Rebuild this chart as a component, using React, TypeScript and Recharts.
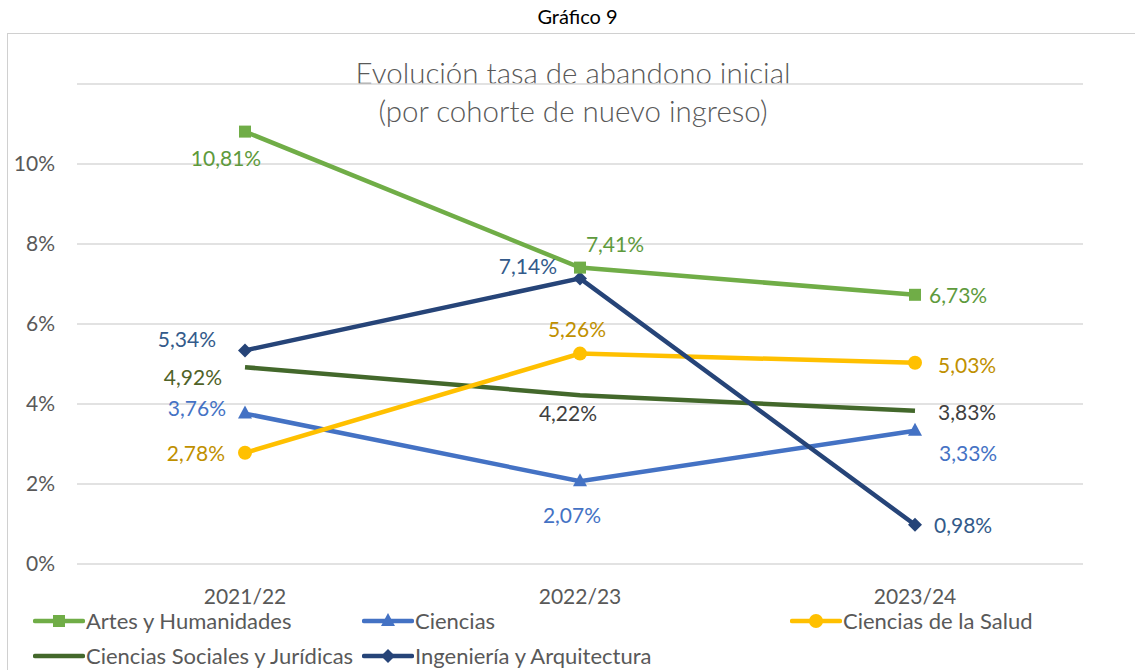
import React from "react";
import { LineChart, Line, XAxis, YAxis, CartesianGrid, LabelList } from "recharts";

// Data (percent values)
const years = ["2021/22", "2022/23", "2023/24"];
const artes = [10.81, 7.41, 6.73];
const ciencias = [3.76, 2.07, 3.33];
const salud = [2.78, 5.26, 5.03];
const sociales = [4.92, 4.22, 3.83];
const ingenieria = [5.34, 7.14, 0.98];
const yTicks = [0, 2, 4, 6, 8, 10];

const data = years.map((y, i) => ({
  year: y,
  artes: artes[i],
  ciencias: ciencias[i],
  salud: salud[i],
  sociales: sociales[i],
  ingenieria: ingenieria[i],
}));

const FONT = "Lato, 'Open Sans', sans-serif";
const fmt = (v: number) => v.toFixed(2).replace(".", ",") + "%";

// label placement per point: [dx, dy, anchor, color]
type Pos = [number, number, string, string];
const makeLabel = (pos: Pos[]) => (props: any) => {
  const { x, y, value, index } = props;
  const [dx, dy, anchor, color] = pos[index];
  return (
    <text
      x={x + dx}
      y={y + dy}
      textAnchor={anchor}
      dominantBaseline="central"
      fill={color}
      fontSize={21}
      fontFamily={FONT}
    >
      {fmt(value)}
    </text>
  );
};

const Square = (color: string) => (p: any) => (
  <rect key={p.index} x={p.cx - 6} y={p.cy - 6} width={12} height={12} fill={color} />
);
const Triangle = (color: string) => (p: any) => (
  <polygon key={p.index} points={`${p.cx},${p.cy - 8} ${p.cx + 7},${p.cy + 5} ${p.cx - 7},${p.cy + 5}`} fill={color} />
);
const Circle = (color: string) => (p: any) => (
  <circle key={p.index} cx={p.cx} cy={p.cy} r={7} fill={color} />
);
const Diamond = (color: string) => (p: any) => (
  <polygon key={p.index} points={`${p.cx},${p.cy - 7} ${p.cx + 7},${p.cy} ${p.cx},${p.cy + 7} ${p.cx - 7},${p.cy}`} fill={color} />
);

const C = {
  artes: "#70AD47",
  ciencias: "#4472C4",
  salud: "#FFC000",
  sociales: "#43682B",
  ingenieria: "#264478",
};

const legendItems = [
  { name: "Artes y Humanidades", color: C.artes, marker: "square", x: 33, y: 621 },
  { name: "Ciencias", color: C.ciencias, marker: "triangle", x: 362, y: 621 },
  { name: "Ciencias de la Salud", color: C.salud, marker: "circle", x: 790, y: 621 },
  { name: "Ciencias Sociales y Jurídicas", color: C.sociales, marker: "none", x: 33, y: 656 },
  { name: "Ingeniería y Arquitectura", color: C.ingenieria, marker: "diamond", x: 362, y: 656 },
];

const LegendIcon = ({ color, marker }: { color: string; marker: string }) => (
  <svg width={52} height={20} style={{ display: "block" }}>
    <line x1={2} y1={10} x2={50} y2={10} stroke={color} strokeWidth={4.5} strokeLinecap="round" />
    {marker === "square" && <rect x={20} y={4} width={12} height={12} fill={color} />}
    {marker === "triangle" && <polygon points="26,2 33,15 19,15" fill={color} />}
    {marker === "circle" && <circle cx={26} cy={10} r={7} fill={color} />}
    {marker === "diamond" && <polygon points="26,3 33,10 26,17 19,10" fill={color} />}
  </svg>
);

export default function App() {
  return (
    <div style={{ position: "fixed", top: 0, left: 0, width: 1135, height: 670, background: "#fff", fontFamily: FONT, overflow: "hidden" }}>
      <div style={{ position: "absolute", top: 4, left: 0, width: 1155, textAlign: "center", fontSize: 20, color: "#000" }}>
        Gráfico 9
      </div>
      <div style={{ position: "absolute", top: 33, left: 7, width: 1140, height: 650, border: "1.5px solid #D0D0D0", boxSizing: "border-box" }} />
      <div style={{ position: "absolute", top: 54, left: 0, width: 1146, textAlign: "center", fontSize: 29.5, fontWeight: 300, color: "#595959", lineHeight: "38px" }}>
        Evolución tasa de abandono inicial
        <br />
        (por cohorte de nuevo ingreso)
      </div>
      <div style={{ position: "absolute", top: 0, left: 0 }}>
        <LineChart width={1135} height={610} data={data} margin={{ top: 84, right: 52, bottom: 16, left: 7 }}>
          <CartesianGrid vertical={false} stroke="#D9D9D9" strokeWidth={1.5} />
          <XAxis
            dataKey="year"
            axisLine={false}
            tickLine={false}
            padding={{ left: 168, right: 168 }}
            tick={{ fontSize: 21, fill: "#595959", fontFamily: FONT, dy: 17 }}
          />
          <YAxis
            width={70}
            domain={[0, 12]}
            ticks={yTicks}
            axisLine={false}
            tickLine={false}
            tickFormatter={(v: number) => `${v}%`}
            tick={{ fontSize: 21, fill: "#595959", fontFamily: FONT, dx: -14 }}
          />
          <Line dataKey="sociales" stroke={C.sociales} strokeWidth={4.5} dot={false} isAnimationActive={false}>
            <LabelList
              dataKey="sociales"
              content={makeLabel([
                [-23, 9, "end", "#4F6228"],
                [-12, 17, "middle", "#404040"],
                [23, 1, "start", "#404040"],
              ])}
            />
          </Line>
          <Line dataKey="ciencias" stroke={C.ciencias} strokeWidth={4.5} dot={Triangle(C.ciencias)} isAnimationActive={false}>
            <LabelList
              dataKey="ciencias"
              content={makeLabel([
                [-19, -6, "end", "#4472C4"],
                [-8, 33, "middle", "#4472C4"],
                [24, 22, "start", "#4472C4"],
              ])}
            />
          </Line>
          <Line dataKey="salud" stroke={C.salud} strokeWidth={4.5} dot={Circle(C.salud)} isAnimationActive={false}>
            <LabelList
              dataKey="salud"
              content={makeLabel([
                [-20, 0, "end", "#BF9000"],
                [-3, -25, "middle", "#BF9000"],
                [23, 2, "start", "#BF9000"],
              ])}
            />
          </Line>
          <Line dataKey="ingenieria" stroke={C.ingenieria} strokeWidth={4.5} dot={Diamond(C.ingenieria)} isAnimationActive={false}>
            <LabelList
              dataKey="ingenieria"
              content={makeLabel([
                [-29, -12, "end", "#335A8A"],
                [-23, -13, "end", "#335A8A"],
                [19, 0, "start", "#335A8A"],
              ])}
            />
          </Line>
          <Line dataKey="artes" stroke={C.artes} strokeWidth={4.5} dot={Square(C.artes)} isAnimationActive={false}>
            <LabelList
              dataKey="artes"
              content={makeLabel([
                [-19, 26, "middle", "#5E9A3C"],
                [35, -24, "middle", "#5E9A3C"],
                [14, 0, "start", "#5E9A3C"],
              ])}
            />
          </Line>
        </LineChart>
      </div>
      {legendItems.map((it) => (
        <div
          key={it.name}
          style={{ position: "absolute", left: it.x, top: it.y - 14, height: 28, lineHeight: "28px", display: "flex", alignItems: "center", fontSize: 22, color: "#595959" }}
        >
          <LegendIcon color={it.color} marker={it.marker} />
          <span style={{ marginLeft: 1 }}>{it.name}</span>
        </div>
      ))}
    </div>
  );
}
